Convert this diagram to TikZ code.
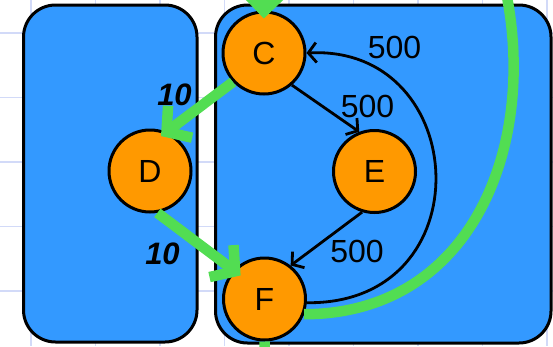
\documentclass[tikz,border=0pt]{standalone}
\usepackage{fontspec}
\setmainfont{Liberation Sans}
\usetikzlibrary{arrows.meta}
\definecolor{boxblue}{RGB}{51,153,255}
\definecolor{nodeorange}{RGB}{255,153,0}
\definecolor{flowgreen}{RGB}{82,221,82}
\definecolor{gridcol}{RGB}{210,218,248}

\begin{document}
\begin{tikzpicture}[x=1pt,y=-1pt,
  gridline/.style={draw=gridcol, line width=1.5pt},
  region/.style={rectangle, draw=black, fill=boxblue, line width=3pt,
    rounded corners=32pt, inner sep=0pt},
  vertex/.style={circle, draw=black, fill=nodeorange, line width=3pt,
    minimum size=82pt, inner sep=0pt, font=\fontsize{32}{36}\selectfont},
  edge/.style={draw=black, line width=2.8pt,
    -{Straight Barb[length=8pt,width=20pt]}},
  flow/.style={draw=flowgreen, line width=10.5pt},
  flowarrow/.style={flow, -{Straight Barb[length=17pt,width=40pt]}},
  weight/.style={inner sep=0pt, font=\fontsize{32}{36}\selectfont},
  cost/.style={inner sep=0pt, font=\fontsize{31}{34}\bfseries\itshape\selectfont},
]
\path[use as bounding box, clip] (0,0) rectangle (553,346);

% background grid
\foreach \gx in {0,...,8} \draw[gridline] (31+64.5*\gx,0) -- (31+64.5*\gx,346);
\foreach \gy in {0,...,4} \draw[gridline] (0,33+64.5*\gy) -- (553,33+64.5*\gy);

% the two regions
\node[region, minimum width=173.5pt, minimum height=337pt] (west) at (110.25,173.5) {};
\node[region, minimum width=335.5pt, minimum height=338pt] (east) at (383.25,174) {};

% vertices
\node[vertex] (C) at (264,53) {C};
\node[vertex] (D) at (150,171) {D};
\node[vertex] (E) at (374.5,171.5) {E};
\node[vertex] (F) at (264.5,299) {F};

% free ends of the green flow
\coordinate (src) at (265,-40);
\coordinate (sink) at (265,370);
\coordinate (ret) at (507,-3);

% black edges with weights
\draw[edge] (C.-49) -- (E.111);
\draw[edge] (E.-107) -- (F.52);
\draw[edge] (F.-5) .. controls (485,305) and (472,45) .. (C.0);
\node[weight] (wFC) at (394.5,47.5) {500};
\node[weight] (wCE) at (367.5,106.5) {500};
\node[weight] (wEF) at (357,251.5) {500};

% green flow
\draw[draw=flowgreen, line width=1pt,
  -{Triangle[length=20pt,width=40pt]}, flowgreen] (src) -- (C.north) [shorten >=-8pt];
\draw[flowarrow, shorten >=-7pt] (C.-137) -- (D.67);
\draw[flowarrow, shorten >=-9pt] (D.-80) -- (F.137);
\draw[flow] (F.south) -- (sink);
\draw[flow] (F.-21) .. controls (470,314) and (536,150) .. (ret);
\node[cost] (kCD) at (174.5,94.5) {10};
\node[cost] (kDF) at (162.5,253.5) {10};
\end{tikzpicture}
\end{document}
